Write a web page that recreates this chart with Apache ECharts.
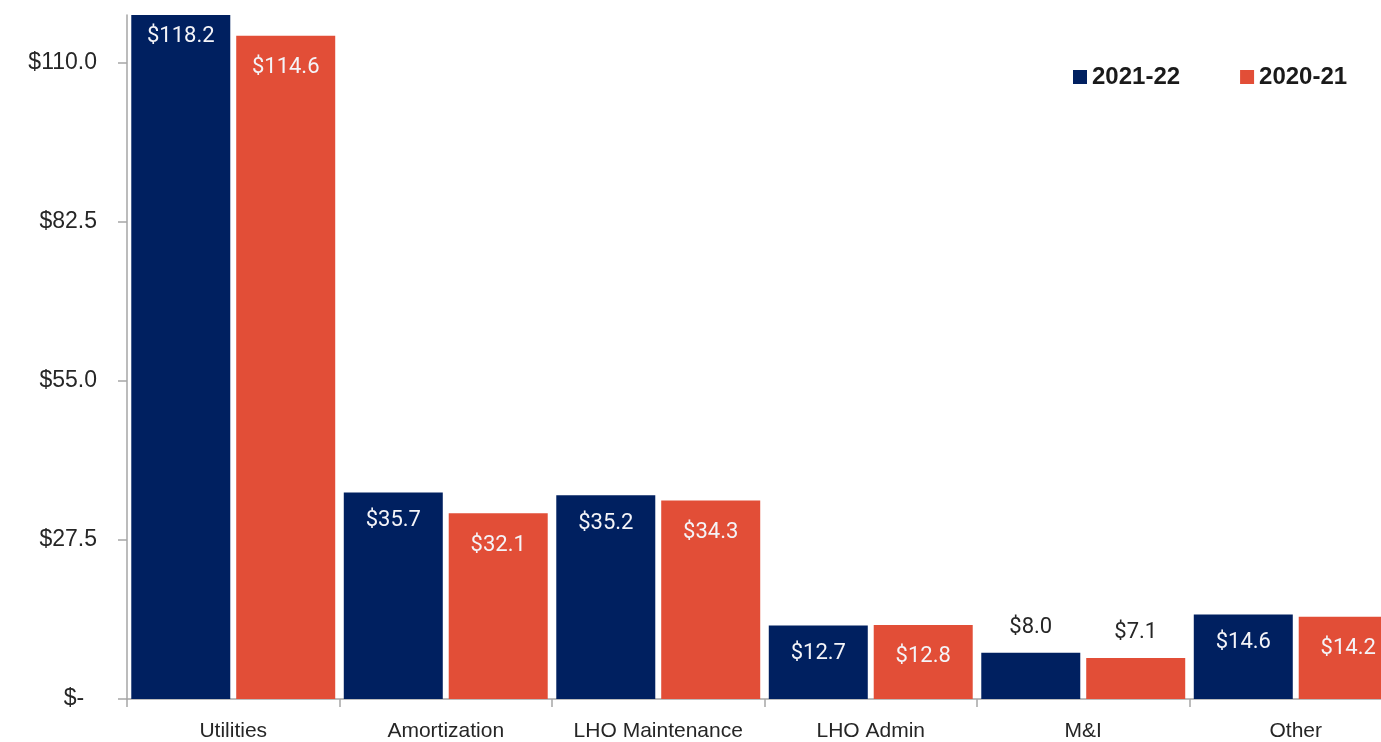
<!DOCTYPE html>
<html>
<head>
<meta charset="utf-8">
<script src="https://cdn.jsdelivr.net/npm/echarts@6/dist/echarts.min.js"></script>
<style>
  html, body { margin: 0; padding: 0; background: #ffffff; }
  #chart { width: 1381px; height: 742px; }
</style>
</head>
<body>
<div id="chart"></div>
<script>
// Expense categories and totals ($ millions) for two fiscal years
const categories = ['Utilities', 'Amortization', 'LHO Maintenance', 'LHO Admin', 'M&I', 'Other'];
const seriesNames = ['2021-22', '2020-21'];
const fy2122 = [118.2, 35.7, 35.2, 12.7, 8.0, 14.6];
const fy2021 = [114.6, 32.1, 34.3, 12.8, 7.1, 14.2];

// Value axis: ticks every 27.5, top at the tallest bar
const yInterval = 27.5;
const yMax = 118.2;

const NAVY = '#002060';
const CORAL = '#E24E37';
const TEXT = '#262626';
const AXIS = '#a6a6a6';

const money = v => '$' + Number(v).toFixed(1);

// Short bars carry their value above the bar, others inside near the top
function barData(values, insideDistance, firstDistance) {
  return values.map((v, i) => {
    if (v < 10) {
      return { value: v, label: { position: 'top', distance: 14, color: TEXT } };
    }
    if (i === 0 && firstDistance != null) {
      return { value: v, label: { distance: firstDistance } };
    }
    return { value: v, label: { distance: insideDistance } };
  });
}

const barLabel = {
  show: true,
  position: 'insideTop',
  color: '#f4f4f8',
  fontFamily: 'Roboto',
  fontSize: 22,
  formatter: p => money(p.value)
};

const chart = echarts.init(document.getElementById('chart'), null, { renderer: 'canvas' });

chart.setOption({
  animation: false,
  backgroundColor: '#ffffff',
  // plot area runs past the right edge, so the last pair is cut off
  grid: {
    left: 127, top: 15, width: 1275, height: 684,
    containLabel: false,
    outerBoundsMode: 'none'
  },
  legend: {
    data: seriesNames,
    left: 1068,
    top: 60,
    icon: 'rect',
    itemWidth: 14,
    itemHeight: 14,
    itemGap: 60,
    textStyle: {
      color: '#1a1a1a',
      fontFamily: 'Liberation Sans',
      fontWeight: 'bold',
      fontSize: 24,
      padding: [0, 0, 0, 0]
    }
  },
  xAxis: {
    type: 'category',
    data: categories,
    axisLine: { show: true, lineStyle: { color: AXIS, width: 1.5 } },
    axisTick: { show: true, interval: 0, length: 8, lineStyle: { color: AXIS, width: 1.5 } },
    axisLabel: {
      interval: 0,
      color: TEXT,
      fontFamily: 'Liberation Sans',
      fontSize: 21,
      margin: 22
    },
    splitLine: { show: false }
  },
  yAxis: {
    type: 'value',
    min: 0,
    max: yMax,
    interval: yInterval,
    axisLine: { show: true, lineStyle: { color: AXIS, width: 1.5 } },
    axisTick: { show: true, length: 9, lineStyle: { color: AXIS, width: 1.5 } },
    splitLine: { show: false },
    axisLabel: {
      showMaxLabel: false,
      color: TEXT,
      fontFamily: 'Liberation Sans',
      fontSize: 23,
      margin: 30,
      formatter: v => (v === 0 ? '$-  ' : money(v))
    }
  },
  series: [
    {
      name: seriesNames[0],
      type: 'bar',
      barWidth: 99,
      barGap: '6%',
      itemStyle: { color: NAVY },
      label: barLabel,
      data: barData(fy2122, 17, 10)
    },
    {
      name: seriesNames[1],
      type: 'bar',
      barWidth: 99,
      barGap: '6%',
      itemStyle: { color: CORAL },
      label: barLabel,
      data: barData(fy2021, 21)
    }
  ]
});
</script>
</body>
</html>
